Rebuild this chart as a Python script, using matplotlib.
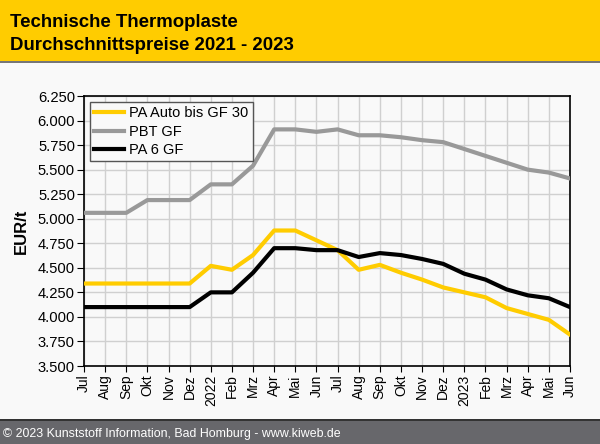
## Technische Thermoplaste - Durchschnittspreise 2021 - 2023

import matplotlib.pyplot as plt
from matplotlib.patches import Rectangle
from matplotlib.ticker import FuncFormatter, MultipleLocator

plt.rcParams['font.family'] = ['Liberation Sans', 'DejaVu Sans']

months = ["Jul", "Aug", "Sep", "Okt", "Nov", "Dez", "2022", "Feb", "Mrz", "Apr", "Mai", "Jun",
          "Jul", "Aug", "Sep", "Okt", "Nov", "Dez", "2023", "Feb", "Mrz", "Apr", "Mai", "Jun"]

# EUR/t
pa_auto = [4340, 4340, 4340, 4340, 4340, 4340, 4520, 4480, 4630, 4880, 4880, 4780,
           4680, 4480, 4530, 4450, 4380, 4300, 4250, 4200, 4090, 4030, 3970, 3820]
pbt_gf = [5060, 5060, 5060, 5190, 5190, 5190, 5350, 5350, 5540, 5910, 5910, 5885,
          5910, 5850, 5850, 5830, 5800, 5780, 5710, 5640, 5570, 5500, 5470, 5410]
pa6_gf = [4100, 4100, 4100, 4100, 4100, 4100, 4250, 4250, 4450, 4700, 4700, 4680,
          4680, 4610, 4650, 4630, 4590, 4540, 4440, 4380, 4280, 4220, 4190, 4100]

bg = "#f9f9f9"
fig = plt.figure(figsize=(6, 4.44), dpi=100, facecolor=bg)

# header and footer bands
fig.patches.append(Rectangle((0, 1 - 61 / 444), 1, 61 / 444, transform=fig.transFigure,
                             facecolor="#ffcc00", edgecolor="none", zorder=0))
fig.patches.append(Rectangle((0, 1 - 63 / 444), 1, 2 / 444, transform=fig.transFigure,
                             facecolor="#777777", edgecolor="none", zorder=0))
fig.patches.append(Rectangle((0, 0), 1, 23 / 444, transform=fig.transFigure,
                             facecolor="#67676b", edgecolor="none", zorder=0))
fig.patches.append(Rectangle((0, 23 / 444), 1, 2 / 444, transform=fig.transFigure,
                             facecolor="#333333", edgecolor="none", zorder=0))

fig.text(10 / 600, 1 - 27 / 444, "Technische Thermoplaste", fontsize=13.4, fontweight="bold",
         va="baseline", ha="left")
fig.text(10 / 600, 1 - 50 / 444, "Durchschnittspreise 2021 - 2023", fontsize=13.4,
         fontweight="bold", va="baseline", ha="left")
fig.text(3 / 600, 7 / 444, "\u00a9 2023 Kunststoff Information, Bad Homburg - www.kiweb.de",
         fontsize=8.9, color="white", va="baseline", ha="left")

ax = fig.add_axes([84 / 600, 1 - 366 / 444, 486 / 600, 270 / 444])
ax.set_facecolor(bg)

xx = list(range(len(months)))
ax.plot(xx, pa_auto, color="#ffcc00", lw=3, label="PA Auto bis GF 30", zorder=3)
ax.plot(xx, pbt_gf, color="#999999", lw=3, label="PBT GF", zorder=3)
ax.plot(xx, pa6_gf, color="black", lw=3, label="PA 6 GF", zorder=3)

ax.set_xlim(0, len(months) - 1)
ax.set_ylim(3500, 6250)
ax.yaxis.set_major_locator(MultipleLocator(250))
ax.yaxis.set_major_formatter(FuncFormatter(lambda v, p: f"{int(v) // 1000}.{int(v) % 1000:03d}"))
ax.set_xticks(xx)
ax.set_xticklabels(months, rotation=90, fontsize=10)
ax.tick_params(axis="y", labelsize=10.6, length=5, direction="out", pad=1.5)
ax.tick_params(axis="x", length=4, direction="out", pad=2)
ax.grid(color="#d0d0d0", lw=1, zorder=0)
ax.set_axisbelow(True)
for s in ax.spines.values():
    s.set_color("black")
    s.set_linewidth(1.2)

fig.text(21 / 600, 1 - 231 / 444, "EUR/t", rotation=90, fontsize=12, fontweight="bold",
         ha="center", va="center")

leg = ax.legend(loc="upper left", bbox_to_anchor=(6 / 486, 1 - 6 / 270), fontsize=10.5,
                frameon=True, fancybox=False, handlelength=2.05, handletextpad=0.35,
                borderpad=0.3, labelspacing=0.3, borderaxespad=0)
leg.get_frame().set_edgecolor("#555555")
leg.get_frame().set_facecolor(bg)
leg.get_frame().set_linewidth(1)
leg.get_frame().set_alpha(1)

fig.savefig("out.png", dpi=100, facecolor=bg)
